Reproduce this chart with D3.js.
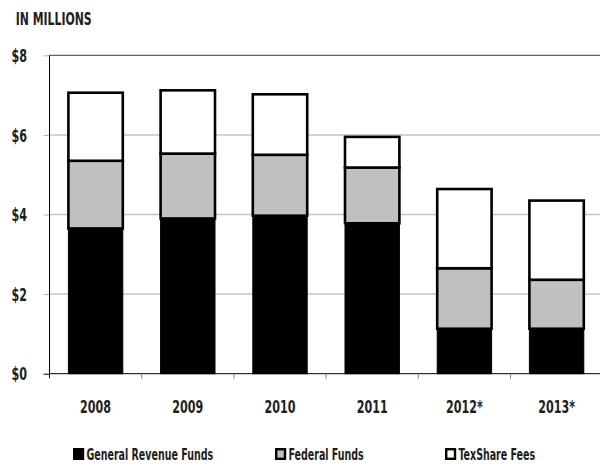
<!DOCTYPE html>
<html>
<head>
<meta charset="utf-8">
<script src="https://cdn.jsdelivr.net/npm/d3@7"></script>
<style>
  html, body { margin: 0; padding: 0; background: #fff; }
  svg { display: block; }
  text { font-family: "DejaVu Sans Condensed", "Liberation Sans Narrow", sans-serif; fill: #1e1e1e; font-weight: bold; }
</style>
</head>
<body>
<svg id="chart" width="600" height="466"></svg>
<script>
const years = ["2008", "2009", "2010", "2011", "2012*", "2013*"];
const generalRevenue = [3.65, 3.90, 3.97, 3.78, 1.13, 1.13];
const federalFunds = [1.70, 1.63, 1.53, 1.40, 1.52, 1.23];
const texShareFees = [1.71, 1.59, 1.52, 0.77, 1.99, 1.99];
const seriesNames = ["General Revenue Funds", "Federal Funds", "TexShare Fees"];
const yTicks = [0, 2, 4, 6, 8];

const colors = ["#000000", "#c0c0c0", "#ffffff"];

const svg = d3.select("#chart");
const rows = years.map((y, i) => ({ year: y, g: generalRevenue[i], f: federalFunds[i], t: texShareFees[i] }));
const stack = d3.stack().keys(["g", "f", "t"])(rows);

const x = d3.scaleBand().domain(years).range([49.5, 602.7]).paddingInner(0.41).paddingOuter(0.205);
const y = d3.scaleLinear().domain([0, 8]).range([373.7, 55.3]);

// horizontal condensing of text (the reference uses a condensed face)
function condenseK(sel, k) {
  const nodes = sel.nodes();
  const widths = nodes.map(n => n.getComputedTextLength());
  nodes.forEach((n, i) => {
    n.setAttribute("textLength", (widths[i] * k).toFixed(2));
    n.setAttribute("lengthAdjust", "spacingAndGlyphs");
  });
}
function condenseTo(sel, target) {
  const first = sel.node();
  condenseK(sel, target / first.getComputedTextLength());
}

// title
const title = svg.append("text").attr("x", 15.7).attr("y", 25).attr("font-size", 17).text("IN MILLIONS");
condenseTo(title, 76);

// gridlines
svg.append("g").selectAll("line").data(yTicks.filter(d => d > 0)).join("line")
  .attr("x1", 49.5).attr("x2", 600)
  .attr("y1", d => y(d)).attr("y2", d => y(d))
  .attr("stroke", d => d === 8 ? "#3a3a3a" : "#c4c4c4")
  .attr("stroke-width", d => d === 8 ? 1 : 1.5);

// x labels first, to get the digit condensing factor
const xLabels = svg.append("g").selectAll("text").data(years).join("text")
  .attr("x", d => x(d) + x.bandwidth() / 2)
  .attr("y", 413.3)
  .attr("text-anchor", "middle")
  .attr("font-size", 17)
  .text(d => d);
const kDigits = 31 / xLabels.node().getComputedTextLength();
condenseK(xLabels, kDigits);

// y axis
const yAxis = svg.append("g").attr("transform", "translate(49.5,0)")
  .call(d3.axisLeft(y).tickValues(yTicks).tickFormat(d => "$" + d).tickSize(6).tickPadding(16.5));
yAxis.select(".domain").remove();
yAxis.selectAll(".tick line").attr("stroke", d => d === 0 ? "#000" : "#b0b0b0").attr("stroke-width", 1);
const yLabels = yAxis.selectAll(".tick text").attr("font-size", 17).attr("font-family", null)
  .attr("fill", "#1e1e1e").attr("text-anchor", "end").attr("dy", "0.36em");
condenseK(yLabels, kDigits);
svg.append("line").attr("x1", 49.5).attr("x2", 49.5).attr("y1", y(8)).attr("y2", y(0) + 4.5).attr("stroke", "#000").attr("stroke-width", 1);

// bars
const layers = svg.append("g").selectAll("g").data(stack).join("g");
layers.selectAll("rect").data(d => d.map(v => ({ v, key: d.key }))).join("rect")
  .attr("x", d => x(d.v.data.year))
  .attr("width", x.bandwidth())
  .attr("y", d => y(d.v[1]))
  .attr("height", d => y(d.v[0]) - y(d.v[1]))
  .attr("fill", d => colors[["g", "f", "t"].indexOf(d.key)])
  .attr("stroke", "#000")
  .attr("stroke-width", d => d.key === "g" ? 1 : 2.6);

// x axis baseline and ticks
svg.append("line").attr("x1", 49.5).attr("x2", 600).attr("y1", y(0)).attr("y2", y(0)).attr("stroke", "#000").attr("stroke-width", 1);
const gap = (x.step() - x.bandwidth()) / 2;
svg.append("g").selectAll("line").data(years.slice(1)).join("line")
  .attr("x1", d => x(d) - gap).attr("x2", d => x(d) - gap)
  .attr("y1", y(0)).attr("y2", y(0) + 5)
  .attr("stroke", "#808080").attr("stroke-width", 1);

// legend
const legendX = [73, 275, 445];
const lg = svg.append("g").selectAll("g").data(seriesNames).join("g")
  .attr("transform", (d, i) => `translate(${legendX[i]},448)`);
lg.append("rect").attr("x", 1.2).attr("y", 1.2).attr("width", 8.8).attr("height", 9.6)
  .attr("fill", (d, i) => colors[i]).attr("stroke", "#000").attr("stroke-width", 2.4);
const lgText = lg.append("text").attr("x", 13.5).attr("y", 12.2).attr("font-size", 16.5).text(d => d);
condenseTo(lgText, 126.6);
</script>
</body>
</html>
